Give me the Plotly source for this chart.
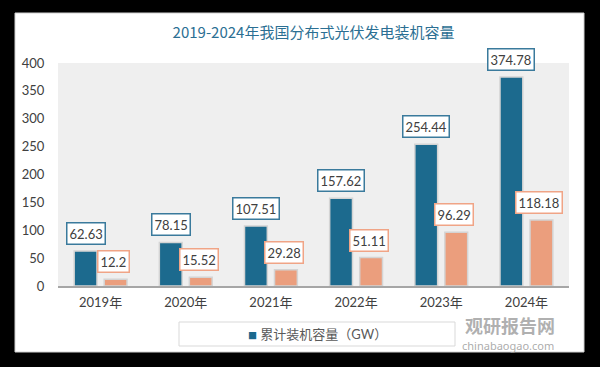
import plotly.graph_objects as go

categories = ["2019年", "2020年", "2021年", "2022年", "2023年", "2024年"]
cumulative = [62.63, 78.15, 107.51, 157.62, 254.44, 374.78]
added = [12.2, 15.52, 29.28, 51.11, 96.29, 118.18]
series_name = "累计装机容量（GW）"
title_text = "2019-2024年我国分布式光伏发电装机容量"
y_ticks = [0, 50, 100, 150, 200, 250, 300, 350, 400]

BLUE = "#1c6a8e"
ORANGE = "#eb9e7d"
BLUE_BORDER = "#3a7a9c"
ORANGE_BORDER = "#f0a486"
TEXT = "#404040"
FONT = "Lato, Noto Sans CJK SC, sans-serif"

fig = go.Figure()
fig.add_trace(go.Bar(x=categories, y=cumulative, name=series_name,
                     marker=dict(color=BLUE, line=dict(color="#d4d4d4", width=1.5)),
                     showlegend=False))
fig.add_trace(go.Bar(x=categories, y=added, name="新增",
                     marker=dict(color=ORANGE, line=dict(color="#d4d4d4", width=1.5)),
                     showlegend=False))

annotations = []
for c, v in zip(categories, cumulative):
    annotations.append(dict(x=c, y=v, xref="x", yref="y", text=f"{v:g}", showarrow=False,
                            yanchor="bottom", xshift=-15, yshift=6,
                            bgcolor="white", bordercolor=BLUE_BORDER, borderwidth=1.5, borderpad=2,
                            font=dict(family=FONT, size=13, color=TEXT)))
for c, v in zip(categories, added):
    annotations.append(dict(x=c, y=v, xref="x", yref="y", text=f"{v:g}", showarrow=False,
                            yanchor="bottom", xshift=13, yshift=6,
                            bgcolor="white", bordercolor=ORANGE_BORDER, borderwidth=1.5, borderpad=2,
                            font=dict(family=FONT, size=13, color=TEXT)))

W, H = 600, 367
L, R, T, B = 58, 31, 63, 81
pw, ph = W - L - R, H - T - B


def px(xp):
    return (xp - L) / pw


def py(yp):
    return (H - B - yp) / ph


annotations.append(dict(x=px(317), y=py(334), xref="paper", yref="paper",
                        text=f'<span style="color:{BLUE};font-size:9px">■</span> {series_name}',
                        showarrow=False, xanchor="center", yanchor="middle",
                        font=dict(family=FONT, size=13, color="#595959")))
# watermark
annotations.append(dict(x=px(510), y=py(325), xref="paper", yref="paper", text="<b>观研报告网</b>",
                        showarrow=False, xanchor="center", yanchor="middle", borderpad=0,
                        font=dict(family="Noto Sans CJK SC", size=18, color="rgba(150,150,150,0.75)")))
annotations.append(dict(x=px(508), y=py(345), xref="paper", yref="paper", text="chinabaogao.com",
                        showarrow=False, xanchor="center", yanchor="middle", borderpad=0,
                        font=dict(family="Noto Sans, sans-serif", size=11, color="rgba(150,150,150,0.8)")))

shapes = [
    dict(type="rect", xref="paper", yref="paper", x0=px(15), x1=px(584), y0=py(13), y1=py(352),
         fillcolor="white", line=dict(color="#d0d0d0", width=1), layer="below"),
    dict(type="rect", xref="paper", yref="paper", x0=0, x1=1, y0=0, y1=1,
         fillcolor="#efefef", line=dict(width=0), layer="below"),
    dict(type="rect", xref="paper", yref="paper", x0=px(179), x1=px(455), y0=py(322), y1=py(346),
         fillcolor="rgba(0,0,0,0)", line=dict(color="#d9d9d9", width=1), layer="below"),
]

fig.update_layout(
    width=W, height=H,
    margin=dict(l=L, r=R, t=T, b=B),
    paper_bgcolor="black",
    plot_bgcolor="rgba(0,0,0,0)",
    barmode="group", bargap=0.295, bargroupgap=0.24,
    title=dict(text=title_text, x=0.5, xref="paper", xanchor="center",
               y=1 - 33 / H, yref="container", yanchor="middle",
               font=dict(family="Noto Sans CJK SC", size=15, color="#2b6f93")),
    xaxis=dict(showgrid=False, showline=True, linecolor="#a6a6a6", linewidth=1.5,
               ticks="outside", ticklen=4, tickcolor="rgba(0,0,0,0)",
               tickfont=dict(family=FONT, size=13, color=TEXT)),
    yaxis=dict(range=[0, 400], tickvals=y_ticks, showgrid=False, showline=False, zeroline=False,
               ticks="outside", ticklen=10, tickcolor="rgba(0,0,0,0)",
               tickfont=dict(family=FONT, size=13, color=TEXT)),
    annotations=annotations,
    shapes=shapes,
    showlegend=False,
)

fig.write_html("out.html", config={"displayModeBar": False},
               post_script="document.body.style.margin='0';document.body.style.background='black';")
